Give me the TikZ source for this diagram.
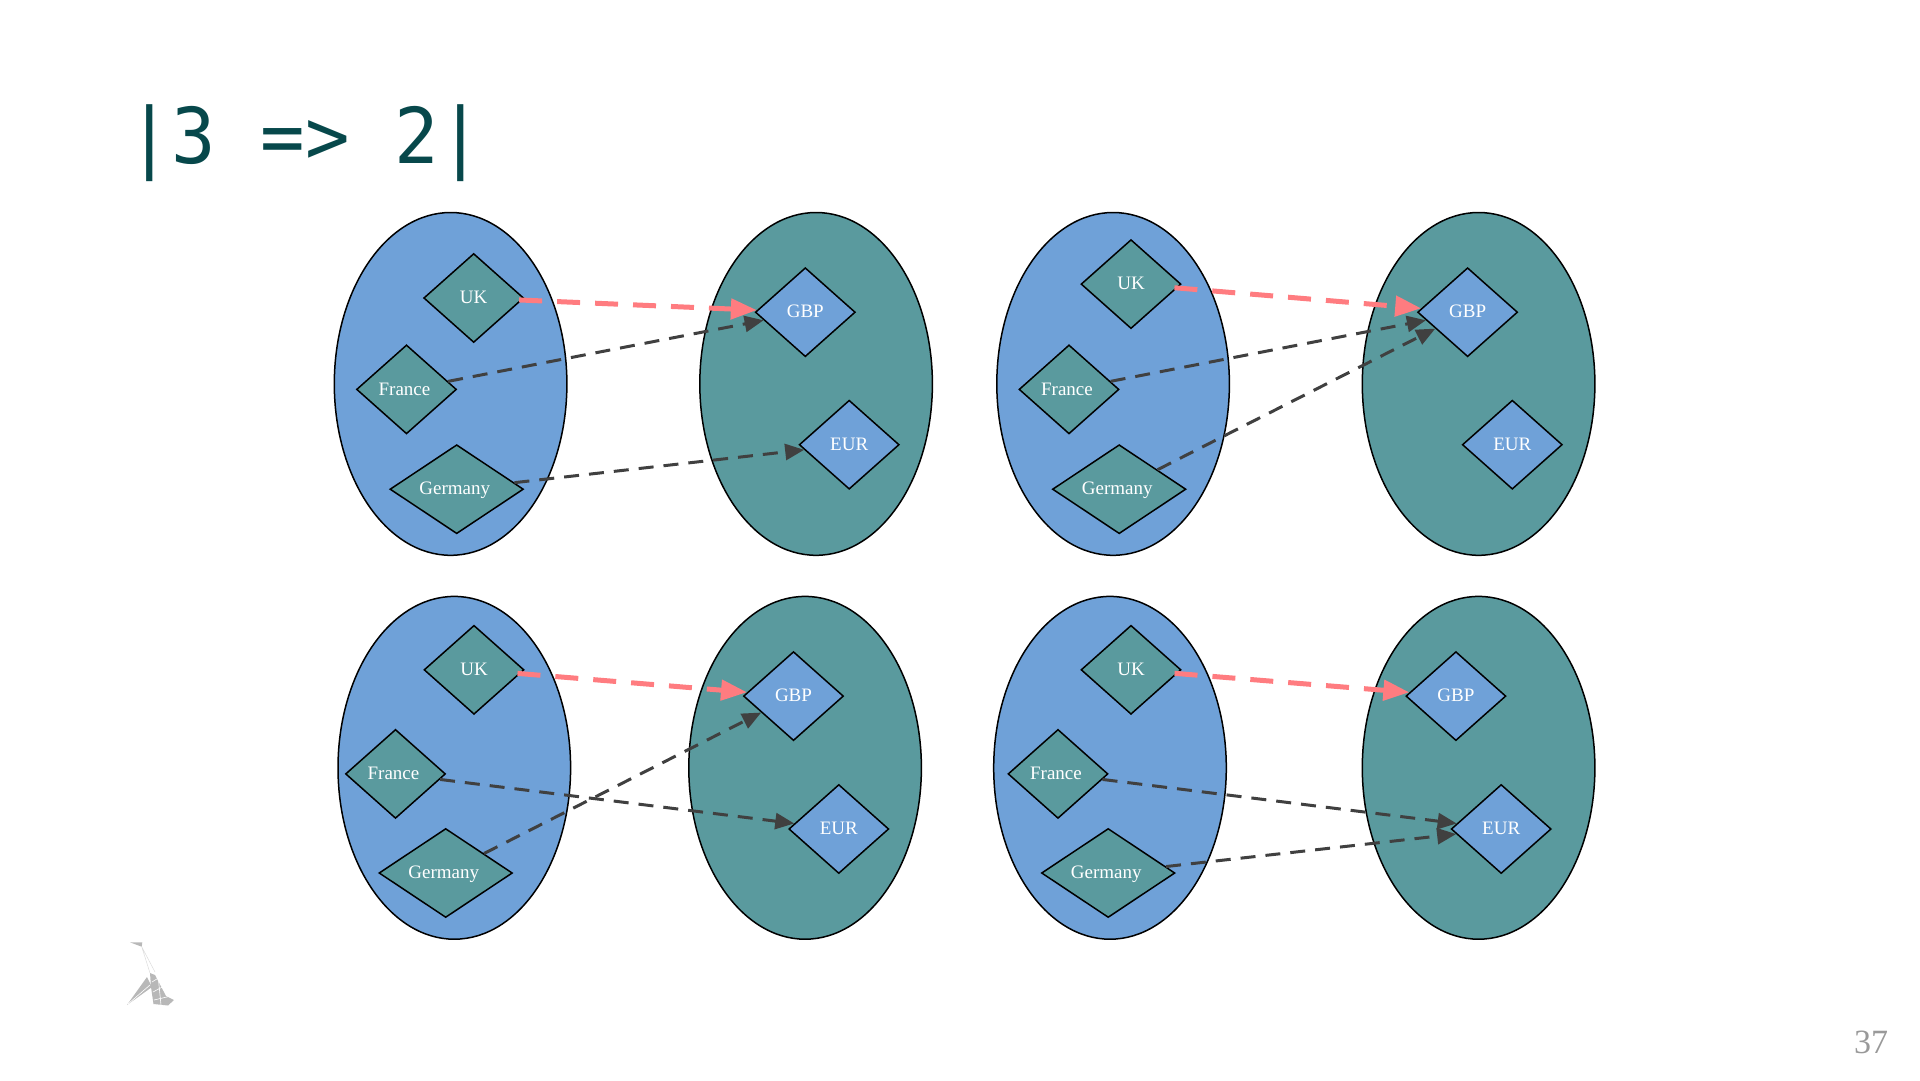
\documentclass[tikz,border=0pt]{standalone}
\usepackage{fontspec}
\setmainfont{Liberation Serif}
\newfontfamily\titlefont[FakeStretch=0.96]{DejaVu Sans Mono}
\usetikzlibrary{shapes.geometric,arrows.meta}
\definecolor{setblue}{HTML}{6FA1D8}
\definecolor{setteal}{HTML}{5A9A9E}
\definecolor{titleteal}{HTML}{07484B}
\definecolor{hitred}{HTML}{FF7C80}
\definecolor{pairgray}{HTML}{404040}
\definecolor{logogray}{HTML}{B8B8B8}
\tikzset{
  bluebag/.style={ellipse,draw=black,line width=1.5pt,fill=setblue,inner sep=0pt,minimum width=232.6pt,minimum height=342.8pt},
  tealbag/.style={bluebag,fill=setteal},
  leftitem/.style={diamond,draw=black,line width=1.5pt,fill=setteal,text=white,inner sep=0pt,minimum width=100pt,minimum height=89pt,text height=15pt,text depth=3.5pt,font=\fontsize{19}{22}\selectfont},
  wideitem/.style={leftitem,aspect=1.6,minimum width=133.5pt},
  rightitem/.style={leftitem,fill=setblue},
  pairline/.style={draw=pairgray,line width=3pt,dash pattern=on 15pt off 10pt,-{Triangle[length=19pt,width=16pt]}},
  hitline/.style={draw=hitred,line width=5pt,dash pattern=on 23pt off 15pt,shorten <=-3pt,-{Triangle[length=26pt,width=20pt]}},
}

\begin{document}
\begin{tikzpicture}[x=1pt,y=-1pt]
  \useasboundingbox (0,0) rectangle (1920,1080);
  \node[text=titleteal,font=\titlefont\fontsize{77}{82}\selectfont,anchor=base west] (title) at (123.5,163) {|3 => 2|};
  \node[text=gray!80,font=\fontsize{34}{36}\selectfont] (pageno) at (1871,1042) {37};

  % logo
  \fill[logogray] (130,942.3) -- (142.3,942.3) -- (141.7,946.7) -- cycle;
  \draw[logogray!50,line width=0.5pt] (141.7,946.7) -- (150,973) (141.7,946.7) -- (155,972);
  \fill[logogray] (127,1005) -- (147,977) -- (150,983) -- (152,987) -- cycle;
  \fill[logogray] (150,973) -- (155,975) -- (166,996) -- (174,1000) -- (168,1005.5) -- (153.5,1004) -- (151,987) -- cycle;
  \draw[white,line width=0.6pt] (152,982) -- (160,977) (153,992) -- (166,985) (154,1000) -- (171,996) (158,975) -- (161,1005) (150,985) -- (128,1004);

  % top left
  \node[bluebag] (bagA) at (450.6,383.9) {};
  \node[tealbag] (curA) at (816.1,383.9) {};
  \node[leftitem] (ukA) at (473.7,298) {UK};
  \node[leftitem] (franceA) at (406.5,389.4) {France\kern4pt};
  \node[wideitem] (germanyA) at (456.7,489.2) {Germany\kern4pt};
  \node[rightitem] (gbpA) at (805.3,312.2) {GBP};
  \node[rightitem] (eurA) at (849.2,444.7) {EUR};
  \draw[hitline] (ukA) -- (gbpA);
  \draw[pairline] (franceA) -- (gbpA);
  \draw[pairline] (germanyA) -- (eurA);

  % top right
  \node[bluebag] (bagB) at (1113.1,383.9) {};
  \node[tealbag] (curB) at (1478.6,383.9) {};
  \node[leftitem] (ukB) at (1131,284.1) {UK};
  \node[leftitem] (franceB) at (1069,389.4) {France\kern4pt};
  \node[wideitem] (germanyB) at (1119.2,489.2) {Germany\kern4pt};
  \node[rightitem] (gbpB) at (1467.6,312.2) {GBP};
  \node[rightitem] (eurB) at (1512.3,444.7) {EUR};
  \draw[hitline] (ukB) -- (gbpB);
  \draw[pairline] (franceB) -- (gbpB);
  \draw[pairline] (germanyB) -- (gbpB);

  % bottom left
  \node[bluebag] (bagC) at (454.3,767.8) {};
  \node[tealbag] (curC) at (805.1,767.8) {};
  \node[leftitem] (ukC) at (474,669.8) {UK};
  \node[leftitem] (franceC) at (395.5,773.9) {France\kern4pt};
  \node[wideitem] (germanyC) at (445.7,873) {Germany\kern4pt};
  \node[rightitem] (gbpC) at (793.5,696.1) {GBP};
  \node[rightitem] (eurC) at (838.8,829) {EUR};
  \draw[hitline] (ukC) -- (gbpC);
  \draw[pairline] (franceC) -- (eurC);
  \draw[pairline] (germanyC) -- (gbpC);

  % bottom right
  \node[bluebag] (bagD) at (1110,767.8) {};
  \node[tealbag] (curD) at (1478.6,767.8) {};
  \node[leftitem] (ukD) at (1131,669.8) {UK};
  \node[leftitem] (franceD) at (1058,773.9) {France\kern4pt};
  \node[wideitem] (germanyD) at (1108.2,873) {Germany\kern4pt};
  \node[rightitem] (gbpD) at (1455.9,696.1) {GBP};
  \node[rightitem] (eurD) at (1501.2,829) {EUR};
  \draw[hitline] (ukD) -- (gbpD);
  \draw[pairline] (franceD) -- (eurD);
  \draw[pairline] (germanyD) -- (eurD);
\end{tikzpicture}
\end{document}
